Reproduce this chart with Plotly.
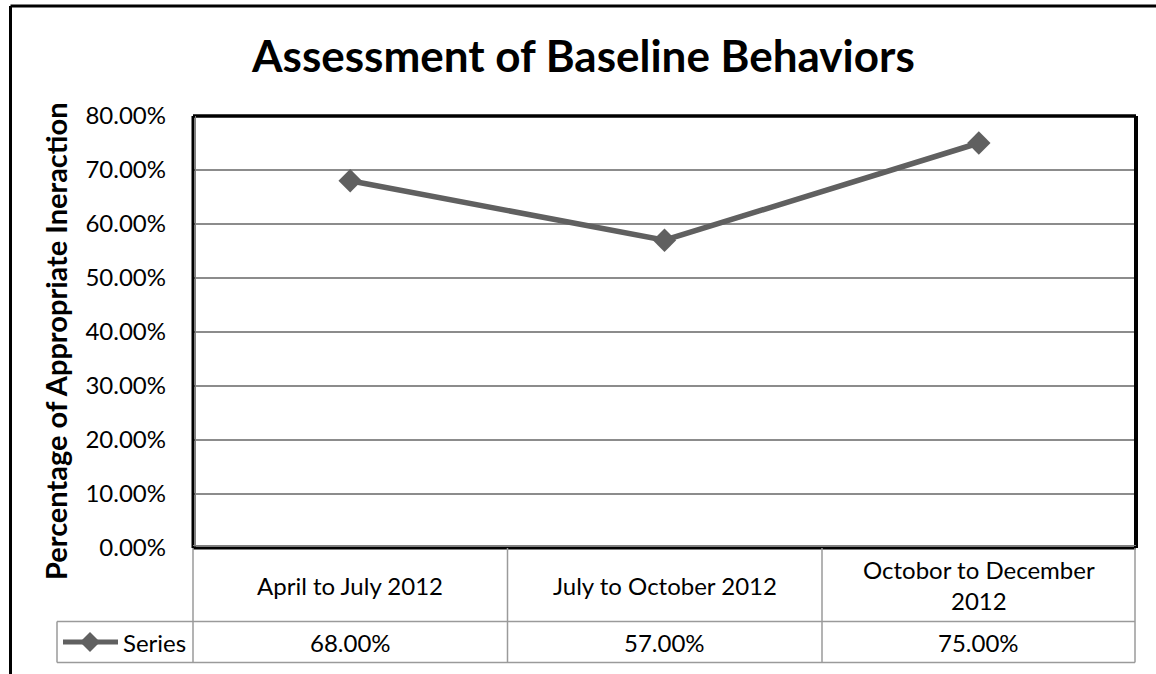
import plotly.graph_objects as go

categories = ["April to July 2012", "July to October 2012", "Octobor to December 2012"]
table_labels = ["April to July 2012", "July to October 2012", "Octobor to December<br>2012"]
values = [0.68, 0.57, 0.75]
value_labels = ["68.00%", "57.00%", "75.00%"]
series_name = "Series"
tick_vals = [0, 0.1, 0.2, 0.3, 0.4, 0.5, 0.6, 0.7, 0.8]
tick_text = ["0.00%", "10.00%", "20.00%", "30.00%", "40.00%", "50.00%", "60.00%", "70.00%", "80.00%"]

W, H = 1156, 674
L, R, T, B = 193, 1136, 116, 548
FONT = "Lato"
LINE_COLOR = "#606060"
GRID = "#8c8c8c"
TBL = "#9a9a9a"
TS = 24


def px(x):
    return (x - L) / (R - L)


def py(y):
    return (B - y) / (B - T)


fig = go.Figure()
fig.add_trace(go.Scatter(
    x=categories, y=values, mode="lines+markers", name=series_name,
    line=dict(color=LINE_COLOR, width=5.5),
    marker=dict(symbol="diamond", size=18, color=LINE_COLOR),
    showlegend=False,
))

shapes = []


def seg(x0, y0, x1, y1, color, width):
    shapes.append(dict(type="line", xref="paper", yref="paper",
                       x0=px(x0), y0=py(y0), x1=px(x1), y1=py(y1),
                       line=dict(color=color, width=width), layer="above"))


# outer frame
seg(10.5, 6, 1200, 6, "black", 3)
seg(10.5, 6, 10.5, 720, "black", 3)

# plot area border
seg(L, T, R, T, "black", 3.5)
seg(R, T, R, B, "black", 4)
seg(L, T, L, B, "black", 3)
seg(L + 2.5, T, L + 2.5, B, "#808080", 1)
seg(L, B, R, B, "black", 3)
seg(L, B - 2.5, R, B - 2.5, "#808080", 1)

# data table lines
row1, row2 = 621.5, 662.5
col_x = [L, 507.5, 822, 1135]
for cx in col_x:
    seg(cx, B, cx, row2, TBL, 1.5)
seg(57, row1, 1135, row1, TBL, 1.5)
seg(57, row2, 1135, row2, TBL, 1.5)
seg(57, row1, 57, row2, TBL, 1.5)
# legend key
seg(63, 642, 118, 642, LINE_COLOR, 5)

annotations = []
for i, lab in enumerate(table_labels):
    cxm = (col_x[i] + col_x[i + 1]) / 2
    annotations.append(dict(xref="paper", yref="paper", x=px(cxm), y=py(585),
                            text=lab, showarrow=False,
                            font=dict(family=FONT, size=TS, color="black"),
                            xanchor="center", yanchor="middle"))
    annotations.append(dict(xref="paper", yref="paper", x=px(cxm), y=py(642),
                            text=value_labels[i], showarrow=False,
                            font=dict(family=FONT, size=TS, color="black"),
                            xanchor="center", yanchor="middle"))
annotations.append(dict(xref="paper", yref="paper", x=px(121), y=py(642),
                        text=series_name, showarrow=False,
                        font=dict(family=FONT, size=TS, color="black"),
                        xanchor="left", yanchor="middle"))
# y axis title
annotations.append(dict(xref="paper", yref="paper", x=px(55), y=py(341),
                        text="<b>Percentage of Appropriate Ineraction</b>", showarrow=False,
                        textangle=-90,
                        font=dict(family=FONT, size=29, color="black"),
                        xanchor="center", yanchor="middle"))
# title
annotations.append(dict(xref="paper", yref="paper", x=px(583), y=py(55),
                        text="<b>Assessment of Baseline Behaviors</b>", showarrow=False,
                        font=dict(family=FONT, size=44, color="black"),
                        xanchor="center", yanchor="middle"))

cx, cy, d = 90, 642, 10
path = f"M {px(cx)},{py(cy - d)} L {px(cx + d)},{py(cy)} L {px(cx)},{py(cy + d)} L {px(cx - d)},{py(cy)} Z"
shapes.append(dict(type="path", xref="paper", yref="paper", path=path,
                   fillcolor=LINE_COLOR, line=dict(width=0), layer="above"))

fig.update_layout(
    width=W, height=H,
    margin=dict(l=L, r=W - R, t=T, b=H - B),
    paper_bgcolor="white", plot_bgcolor="white",
    xaxis=dict(type="category", range=[-0.5, 2.5], showticklabels=False,
               showgrid=False, zeroline=False, showline=False, ticks=""),
    yaxis=dict(range=[0, 0.8], tickvals=tick_vals, ticktext=tick_text,
               showgrid=True, gridcolor=GRID, gridwidth=1.5, zeroline=False,
               showline=False, ticks="", ticklen=0, ticklabelstandoff=26,
               tickfont=dict(family=FONT, size=24, color="black")),
    shapes=shapes, annotations=annotations,
    font=dict(family=FONT),
)

fig.write_html("out.html")
